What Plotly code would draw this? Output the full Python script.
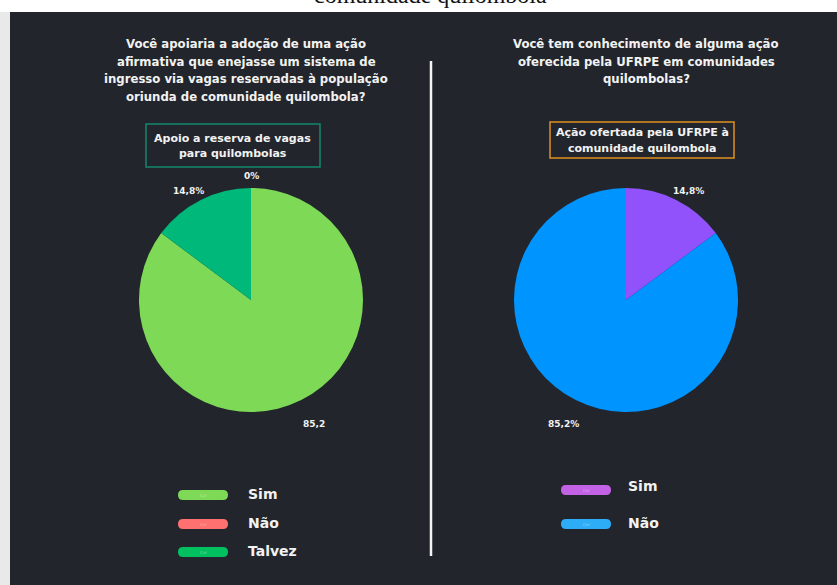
import plotly.graph_objects as go

W, H = 837, 585

# ---------------- data ----------------
q1_title = ["Você apoiaria a adoção de uma ação",
            "afirmativa que enejasse um sistema de",
            "ingresso via vagas reservadas à população",
            "oriunda de comunidade quilombola?"]
q1_box = ["Apoio a reserva de vagas", "para quilombolas"]
q1_labels = ["Sim", "Não", "Talvez"]
q1_values = [85.2, 0.0, 14.8]
q1_valtext = ["85,2", "0%", "14,8%"]

q2_title = ["Você tem conhecimento de alguma ação",
            "oferecida pela UFRPE em comunidades",
            "quilombolas?"]
q2_box = ["Ação ofertada pela UFRPE à", "comunidade quilombola"]
q2_labels = ["Sim", "Não"]
q2_values = [14.8, 85.2]
q2_valtext = ["14,8%", "85,2%"]

caption = "comunidade quilombola"

# ---------------- styles ----------------
BG = "#22262c"
TXT = "#f2f2f2"
FONT = "DejaVu Sans"
q1_colors = ["#7ed957", "#ff6b6b", "#00b87a"]
q1_legend_colors = ["#7ed957", "#ff7070", "#00c060"]
q2_colors = ["#9152fb", "#0094ff"]
q2_legend_colors = ["#c462e6", "#2eadf7"]


def fx(x):
    return x / W


def fy(y):
    return 1 - y / H


R = 112
C1 = (251, 300)
C2 = (626, 300)

fig = go.Figure()


def add_pie(center, labels, values, colors):
    cx, cy = center
    fig.add_trace(go.Pie(
        labels=labels, values=values, sort=False, direction="clockwise",
        rotation=0, marker=dict(colors=colors, line=dict(width=0)),
        textinfo="none", hoverinfo="label+value", showlegend=False,
        domain=dict(x=[fx(cx - R), fx(cx + R)], y=[fy(cy + R), fy(cy - R)]),
    ))


add_pie(C1, q1_labels, q1_values, q1_colors)
add_pie(C2, q2_labels, q2_values, q2_colors)

shapes = []
annotations = []

# background panel
shapes.append(dict(type="rect", xref="paper", yref="paper", x0=fx(0), x1=fx(10),
                   y0=fy(585), y1=fy(12), fillcolor="#e9e9e9", line=dict(width=0), layer="below"))
shapes.append(dict(type="rect", xref="paper", yref="paper", x0=fx(10), x1=fx(837),
                   y0=fy(585), y1=fy(12), fillcolor=BG, line=dict(width=0), layer="below"))
# divider
shapes.append(dict(type="line", xref="paper", yref="paper", x0=fx(431), x1=fx(431),
                   y0=fy(61), y1=fy(556), line=dict(color="#f4f4f4", width=2.5)))


def text(x, y, s, size=11, color=TXT, weight="bold", family=FONT, xanchor="center", yanchor="middle"):
    annotations.append(dict(xref="paper", yref="paper", x=fx(x), y=fy(y), text=s,
                            showarrow=False, xanchor=xanchor, yanchor=yanchor,
                            font=dict(family=family, size=size, color=color, weight=weight)))


# caption (cut at top, as in the source)
text(430, 10, caption, size=24, color="#111111", weight="normal",
     family="Liberation Serif", yanchor="bottom")

# titles
for i, line in enumerate(q1_title):
    text(246, 44 + i * 17.6, line, size=11.7)
for i, line in enumerate(q2_title):
    text(646, 44 + i * 17.6, line, size=11.7)

# boxes
shapes.append(dict(type="rect", xref="paper", yref="paper", x0=fx(146), x1=fx(320),
                   y0=fy(167), y1=fy(124), line=dict(color="#14876a", width=1.5)))
for i, line in enumerate(q1_box):
    text(233, 138 + i * 15.5, line, size=11)
shapes.append(dict(type="rect", xref="paper", yref="paper", x0=fx(550), x1=fx(734),
                   y0=fy(158), y1=fy(122), line=dict(color="#e0901e", width=1.5)))
for i, line in enumerate(q2_box):
    text(642, 133 + i * 15.5, line, size=11)

# value labels (offsets from pie centre)
q1_offsets = [(63, 124), (0, -124), (-63, -109)]
q2_offsets = [(62, -109), (-63, 124)]
for (dx, dy), s in zip(q1_offsets, q1_valtext):
    text(C1[0] + dx, C1[1] + dy, s, size=9)
for (dx, dy), s in zip(q2_offsets, q2_valtext):
    text(C2[0] + dx, C2[1] + dy, s, size=9)


def pill(x0, yc, color, w=50, h=10):
    r = h / 2
    x1 = x0 + w
    y0, y1 = yc - r, yc + r
    pts = lambda x, y: f"{fx(x)},{fy(y)}"
    path = (f"M {pts(x0 + r, y0)} L {pts(x1 - r, y0)} Q {pts(x1, y0)} {pts(x1, yc)} "
            f"Q {pts(x1, y1)} {pts(x1 - r, y1)} L {pts(x0 + r, y1)} Q {pts(x0, y1)} {pts(x0, yc)} "
            f"Q {pts(x0, y0)} {pts(x0 + r, y0)} Z")
    shapes.append(dict(type="path", xref="paper", yref="paper", path=path,
                       fillcolor=color, line=dict(width=0)))
    text(x0 + w / 2, yc, "Cor", size=4, color="rgba(255,255,255,0.45)", weight="normal")


# legends
q1_leg_y = [495, 524, 552]
for lab, col, y in zip(q1_labels, q1_legend_colors, q1_leg_y):
    pill(178, y, col)
    text(246, y - 1, lab, size=14, xanchor="left")
q2_pill_y = [490, 524]
q2_text_y = [486, 523]
for lab, col, yp, yt in zip(q2_labels, q2_legend_colors, q2_pill_y, q2_text_y):
    pill(561, yp, col)
    text(626, yt, lab, size=14, xanchor="left")

fig.update_layout(
    width=W, height=H, margin=dict(l=0, r=0, t=0, b=0),
    paper_bgcolor="white", plot_bgcolor="white",
    shapes=shapes, annotations=annotations, showlegend=False,
)

fig.write_html("out.html", config={"displayModeBar": False},
               post_script="document.body.style.margin='0';document.body.style.overflow='hidden';")
